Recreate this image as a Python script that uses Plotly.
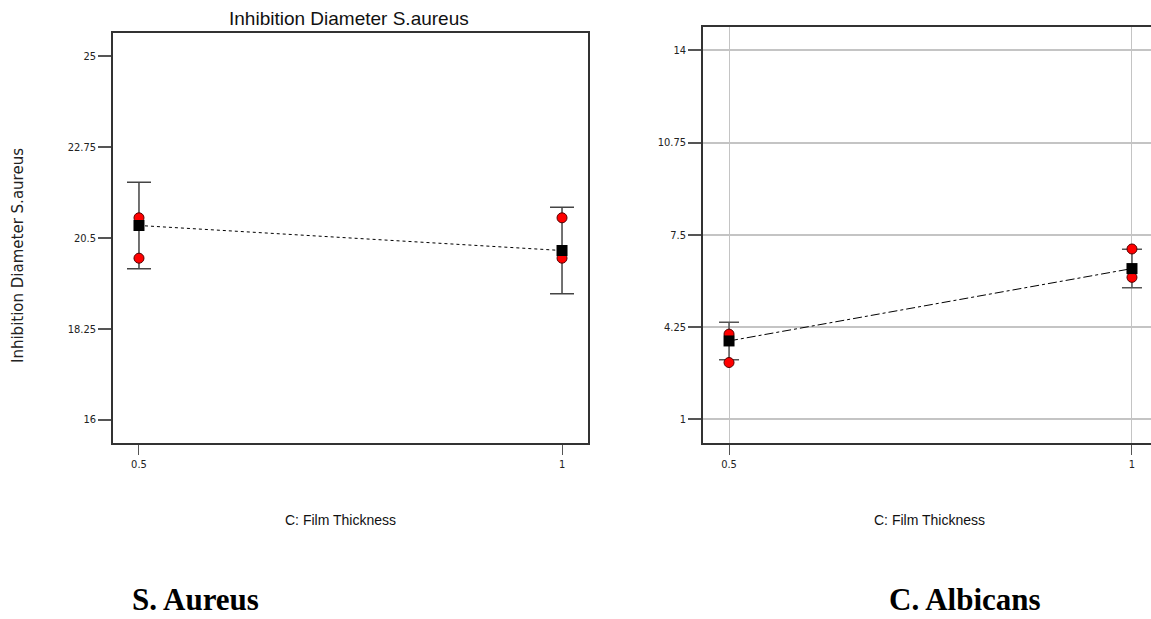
import plotly.graph_objects as go

# Film thickness levels (x factor)
thickness = [0.5, 1.0]
obs_x = [0.5, 0.5, 1.0, 1.0]

# S. aureus inhibition diameter: observed runs, model prediction, interval half-width
sa_obs = [21.0, 20.0, 21.0, 20.0]
sa_pred = [20.81, 20.19]
sa_ci = [1.07, 1.07]
sa_ticks = [16, 18.25, 20.5, 22.75, 25]

# C. albicans inhibition diameter
ca_obs = [4.0, 3.0, 7.0, 6.0]
ca_pred = [3.76, 6.31]
ca_ci = [0.66, 0.68]
ca_ticks = [1, 4.25, 7.5, 10.75, 14]

x_ticks = [0.5, 1]
x_labels = ["0.5", "1"]

W, H = 1151, 619
NARROW = "DejaVu Sans Condensed, Liberation Sans Narrow, sans-serif"
ARIAL = "Liberation Sans, Arial, sans-serif"
SERIF = "Liberation Serif, Times New Roman, serif"


def px_x(p):
    return p / W


def px_y(p):
    return 1 - p / H


fig = go.Figure()

# Left panel: S. aureus
fig.add_trace(go.Scatter(
    x=thickness, y=sa_pred, mode="lines", xaxis="x", yaxis="y",
    line=dict(color="black", width=1, dash="dot"),
    error_y=dict(type="data", array=sa_ci, color="#444", thickness=1.5, width=12),
    hoverinfo="skip", showlegend=False))
fig.add_trace(go.Scatter(
    x=obs_x, y=sa_obs, mode="markers", xaxis="x", yaxis="y",
    marker=dict(symbol="circle", size=10, color="red", line=dict(color="#500", width=1)),
    showlegend=False))
fig.add_trace(go.Scatter(
    x=thickness, y=sa_pred, mode="markers", xaxis="x", yaxis="y",
    marker=dict(symbol="square", size=11, color="black"),
    showlegend=False))

# Right panel: C. albicans
fig.add_trace(go.Scatter(
    x=thickness, y=ca_pred, mode="lines", xaxis="x2", yaxis="y2",
    line=dict(color="black", width=1, dash="dashdot"),
    error_y=dict(type="data", array=ca_ci, color="#555", thickness=1.5, width=10),
    hoverinfo="skip", showlegend=False))
fig.add_trace(go.Scatter(
    x=obs_x, y=ca_obs, mode="markers", xaxis="x2", yaxis="y2",
    marker=dict(symbol="circle", size=10, color="red", line=dict(color="#500", width=1)),
    showlegend=False))
fig.add_trace(go.Scatter(
    x=thickness, y=ca_pred, mode="markers", xaxis="x2", yaxis="y2",
    marker=dict(symbol="square", size=11, color="black"),
    showlegend=False))

tick_font = dict(family=NARROW, size=11, color="#222")

common_x = dict(tickmode="array", tickvals=x_ticks, ticktext=x_labels,
                ticks="outside", ticklen=10, tickcolor="#555", tickwidth=1,
                showline=True, linecolor="#333", linewidth=1.5,
                tickfont=tick_font, zeroline=False)
common_y = dict(ticks="outside", ticklen=13, tickcolor="#555", tickwidth=1.5,
                showline=True, linecolor="#333", linewidth=1.5,
                tickfont=tick_font, zeroline=False, tickmode="array")

fig.update_layout(
    width=W, height=H,
    margin=dict(l=0, r=0, t=0, b=0),
    paper_bgcolor="white", plot_bgcolor="white",
    xaxis=dict(domain=[px_x(113), px_x(588)], range=[0.4693, 1.0307],
               anchor="y", mirror=True, showgrid=False, **common_x),
    yaxis=dict(domain=[px_y(443), px_y(33)], range=[15.42, 25.58],
               anchor="x", mirror=True, showgrid=False,
               tickvals=sa_ticks, ticktext=[f"{v:g}" for v in sa_ticks], **common_y),
    xaxis2=dict(domain=[px_x(703), 1.0], range=[0.4677, 1.0236],
                anchor="y2", mirror=True, showgrid=True, gridcolor="#c4c4c4",
                gridwidth=1, **common_x),
    yaxis2=dict(domain=[px_y(443), px_y(27)], range=[0.165, 14.82],
                anchor="x2", mirror=False, showgrid=True, gridcolor="#c4c4c4",
                gridwidth=1.5,
                tickvals=ca_ticks, ticktext=[f"{v:g}" for v in ca_ticks], **common_y),
)

annotations = [
    dict(text="Inhibition Diameter S.aureus", x=px_x(349), y=px_y(19),
         font=dict(family=ARIAL, size=19, color="#111")),
    dict(text="Inhibition Diameter S.aureus", x=px_x(18), y=px_y(256), textangle=-90,
         font=dict(family="DejaVu Sans, Verdana, sans-serif", size=15, color="#222")),
    dict(text="C: Film Thickness", x=px_x(340), y=px_y(520),
         font=dict(family=ARIAL, size=14, color="#111")),
    dict(text="C: Film Thickness", x=px_x(929), y=px_y(520),
         font=dict(family=ARIAL, size=14, color="#111")),
    dict(text="<b>S. Aureus</b>", x=px_x(195), y=px_y(599),
         font=dict(family=SERIF, size=31, color="black")),
    dict(text="<b>C. Albicans</b>", x=px_x(965), y=px_y(599),
         font=dict(family=SERIF, size=31, color="black")),
]
for a in annotations:
    a.update(xref="paper", yref="paper", showarrow=False,
             xanchor="center", yanchor="middle")
fig.update_layout(annotations=annotations)

fig.write_html("out.html")
